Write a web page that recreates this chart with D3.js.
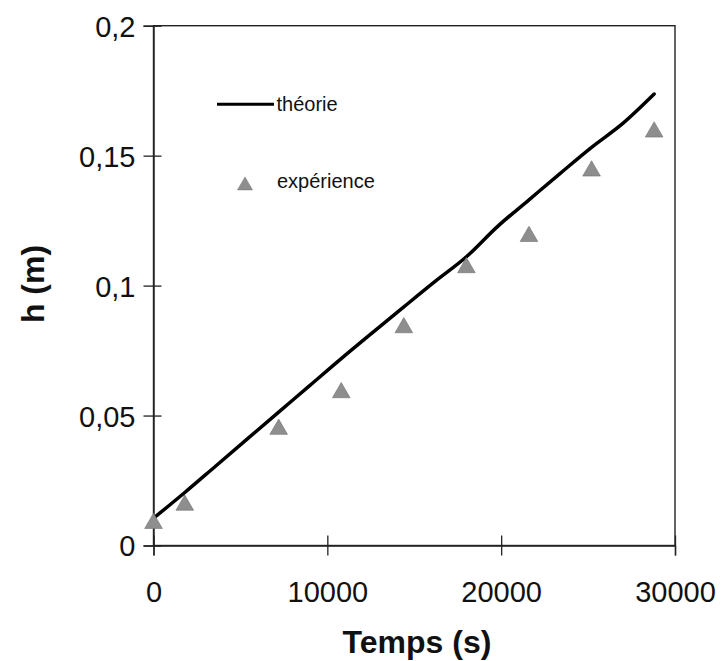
<!DOCTYPE html>
<html>
<head>
<meta charset="utf-8">
<script src="https://cdn.jsdelivr.net/npm/d3@7"></script>
<style>
  html, body { margin: 0; padding: 0; background: #fff; }
  text { font-family: "Liberation Sans", Arial, Helvetica, sans-serif; fill: #111; }
</style>
</head>
<body>
<div id="chart"></div>
<script>
// temps (s) et hauteur (m)
const tExp = [0, 1800, 7200, 10800, 14400, 18000, 21600, 25200, 28800];
const hExp = [0.0095, 0.0165, 0.0457, 0.0598, 0.0848, 0.1079, 0.1199, 0.1451, 0.1601];

const tTheo = [0, 1800, 3600, 5400, 7200, 9000, 10800, 12600, 14400, 16200, 18000, 19800, 21600, 23400, 25200, 27000, 28800];
const hTheo = [0.0105, 0.0204, 0.0307, 0.0410, 0.0513, 0.0616, 0.0719, 0.0819, 0.0918, 0.1016, 0.1111, 0.1228, 0.1330, 0.1432, 0.1532, 0.1624, 0.1737];

const xTicks = [0, 10000, 20000, 30000];
const yTicks = [0, 0.05, 0.1, 0.15, 0.2];

const legendLabels = ['théorie', 'expérience'];

const W = 726, H = 661;
const margin = {top: 25.7, right: 51, bottom: 115.5, left: 153.5};
const width = W - margin.left - margin.right;
const height = H - margin.top - margin.bottom;

const fr = d3.formatLocale({decimal: ',', thousands: ' ', grouping: [3], currency: ['', '']});

const svg = d3.select('#chart').append('svg')
    .attr('width', W)
    .attr('height', H)
  .append('g')
    .attr('transform', `translate(${margin.left}, ${margin.top})`);

const x = d3.scaleLinear().domain([0, 30000]).range([0, width]);
const y = d3.scaleLinear().domain([0, 0.2]).range([height, 0]);

// cadre
svg.append('rect')
  .attr('width', width)
  .attr('height', height)
  .attr('fill', 'none')
  .attr('stroke', '#222')
  .attr('stroke-width', 1.4);

svg.append('g')
  .attr('transform', `translate(0, ${height})`)
  .call((g) => {
    g.call(d3.axisBottom(x).tickValues(xTicks).tickFormat(d3.format('d')).tickSize(10));
    g.select('.domain').attr('stroke', '#222').attr('stroke-width', 1.4);
    g.selectAll('.tick line').attr('y1', -10).attr('y2', 10).attr('stroke', '#222').attr('stroke-width', 1.3);
    g.selectAll('.tick text').attr('y', 56).attr('dy', null)
      .attr('font-size', '29px').attr('fill', '#111')
      .style('font-family', '"Liberation Sans", Arial, sans-serif');
  });

svg.append('g')
  .call((g) => {
    g.call(d3.axisLeft(y).tickValues(yTicks).tickFormat(fr.format('~g')).tickSize(10));
    g.select('.domain').attr('stroke', '#222').attr('stroke-width', 1.4);
    g.selectAll('.tick line').attr('x1', -10).attr('x2', 8).attr('stroke', '#222').attr('stroke-width', 1.3);
    g.selectAll('.tick text').attr('x', -18).attr('dy', '0.36em')
      .attr('font-size', '29px').attr('fill', '#111')
      .style('font-family', '"Liberation Sans", Arial, sans-serif');
  });

// titres des axes
svg.append('text')
  .attr('x', 417 - margin.left)
  .attr('y', 653 - margin.top)
  .attr('text-anchor', 'middle')
  .attr('font-size', '32px')
  .attr('font-weight', 'bold')
  .text('Temps (s)');

svg.append('text')
  .attr('transform', `translate(${44 - margin.left}, ${284 - margin.top}) rotate(-90)`)
  .attr('text-anchor', 'middle')
  .attr('font-size', '32px')
  .attr('font-weight', 'bold')
  .text('h (m)');

// courbe théorique
const theo = tTheo.map((t, i) => ({t, h: hTheo[i]}));
svg.append('path')
  .datum(theo)
  .attr('fill', 'none')
  .attr('stroke', '#000')
  .attr('stroke-width', 3.5)
  .attr('stroke-linejoin', 'round')
  .attr('stroke-linecap', 'round')
  .attr('d', d3.line().curve(d3.curveMonotoneX).x(d => x(d.t)).y(d => y(d.h)));

// points expérimentaux
const tri = d3.symbol(d3.symbolTriangle, 135);
const triOffset = 2.55;
const exp = tExp.map((t, i) => ({t, h: hExp[i]}));
svg.selectAll('.pt')
    .data(exp)
  .enter().append('path')
    .attr('class', 'pt')
    .attr('d', tri)
    .attr('fill', '#8e8e8e')
    .attr('stroke', '#707070')
    .attr('stroke-width', 0.6)
    .attr('transform', d => `translate(${x(d.t)}, ${y(d.h) + triOffset})`);

// légende
const lg = svg.append('g').attr('transform', `translate(${-margin.left}, ${-margin.top})`);
lg.append('line')
  .attr('x1', 217).attr('x2', 274)
  .attr('y1', 104.3).attr('y2', 104.3)
  .attr('stroke', '#000').attr('stroke-width', 3);
lg.append('text')
  .attr('x', 276.5).attr('y', 110.5)
  .attr('font-size', '20px')
  .text(legendLabels[0]);
lg.append('path')
  .attr('d', tri)
  .attr('fill', '#8e8e8e')
  .attr('stroke', '#707070')
  .attr('stroke-width', 0.6)
  .attr('transform', `translate(245, ${183 + triOffset}) scale(0.85)`);
lg.append('text')
  .attr('x', 277).attr('y', 187.5)
  .attr('font-size', '20px')
  .text(legendLabels[1]);
</script>
</body>
</html>
